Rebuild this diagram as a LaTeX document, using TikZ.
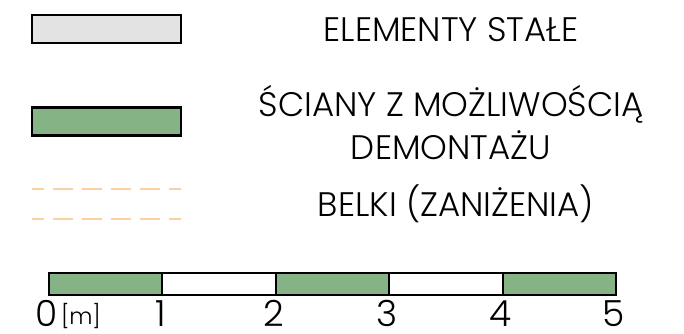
\documentclass[tikz,border=0pt]{standalone}
\usepackage{fontspec}
\setmainfont{Poppins}[UprightFont=* Light]
\usetikzlibrary{positioning}

\definecolor{wallgreen}{RGB}{134,179,134}
\definecolor{fixedgray}{RGB}{227,227,227}
\definecolor{beamorange}{RGB}{252,208,160}

\begin{document}
\begin{tikzpicture}[%
  x=0.75pt, y=-0.75pt, % one unit = one pixel of the sheet
  every node/.style={inner sep=0pt, outer sep=0pt},
  legendbox/.style={rectangle, draw=black, line width=2pt, minimum width=111.75pt, minimum height=21pt},
  legendtext/.style={font=\fontsize{25.5}{32}\selectfont, text=black, align=center, anchor=base},
  beamline/.style={draw=beamorange, line width=1.5pt, dash pattern=on 15pt off 6.75pt, dash phase=6pt},
  scalebox/.style={draw=black, line width=1.5pt},
  scalelabel/.style={font=\fontsize{27}{30}\selectfont, text=black, anchor=base, text depth=0pt}
]
\useasboundingbox (0,0) rectangle (684,334);

% Legend symbols
\node [legendbox, fill=fixedgray] (fixed) at (106.5,29) {};
\node [legendbox, fill=wallgreen] (walls) at (106.5,121.5) {};
\coordinate (beamtopL) at (32,189);
\coordinate (beamtopR) at (181,189);
\coordinate (beambotL) at (32,219);
\coordinate (beambotR) at (181,219);
\draw [beamline] (beamtopL) -- (beamtopR);
\draw [beamline] (beambotL) -- (beambotR);

% Legend descriptions
\node [legendtext] (fixedtext) at (451,42) {ELEMENTY STAŁE};
\node [legendtext] (wallstext1) at (451,117) {ŚCIANY Z MOŻLIWOŚCIĄ};
\node [legendtext] (wallstext2) at (451,160) {DEMONTAŻU};
\node [legendtext] (beamtext) at (456,217) {BELKI (ZANIŻENIA)};

% Scale bar
\foreach \i in {0,...,4} {
  \ifodd\i
    \draw [scalebox, fill=white] (49+113.4*\i,273) rectangle (49+113.4*\i+113.4,295);
  \else
    \draw [scalebox, fill=wallgreen] (49+113.4*\i,273) rectangle (49+113.4*\i+113.4,295);
  \fi
}
\foreach \i in {0,...,5}
  \node [scalelabel] (tick\i) at (47+113.4*\i,326) {\i};
\node [font=\fontsize{17}{20}\selectfont, anchor=base west, text depth=0pt] (unit) at (61,324) {[m]};

\end{tikzpicture}
\end{document}
